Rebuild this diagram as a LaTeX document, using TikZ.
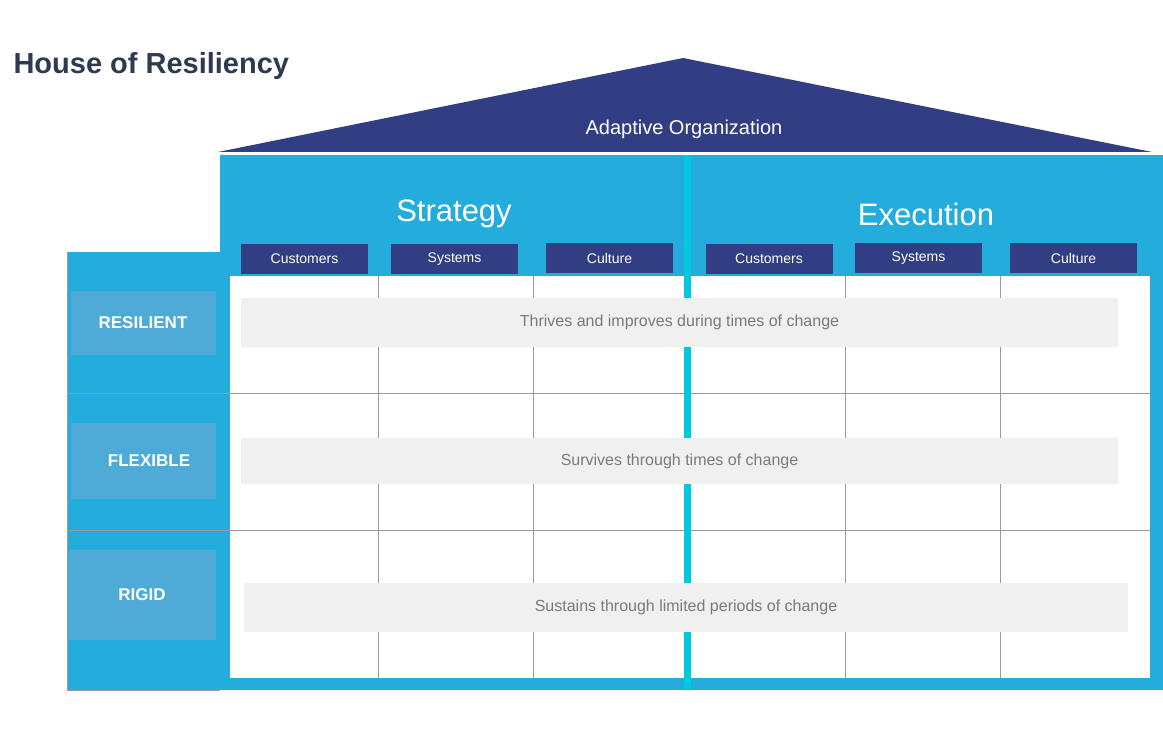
\documentclass[tikz,border=0pt]{standalone}
\usepackage{fontspec}
\setmainfont{Liberation Sans}
\definecolor{navy}{HTML}{323E84}
\definecolor{bodyblue}{HTML}{24ACDC}
\definecolor{lblue}{HTML}{4EAAD6}
\definecolor{cyanl}{HTML}{00C8E0}
\definecolor{titlec}{HTML}{2E3A50}
\definecolor{band}{HTML}{F0F0F0}
\definecolor{bandtxt}{HTML}{7A7A7A}
\definecolor{gridc}{HTML}{9A9A9A}
\begin{document}
\begin{tikzpicture}[x=1pt,y=-1pt,
  hdr/.style={fill=navy,text=white,minimum width=127pt,minimum height=30pt,inner sep=0pt,font=\fontsize{14}{14}\selectfont},
  lvl/.style={fill=lblue,text=white,minimum width=145pt,inner sep=0pt,font=\bfseries\fontsize{17}{17}\selectfont},
  bandn/.style={fill=band,text=bandtxt,inner sep=0pt,font=\fontsize{16}{16}\selectfont},
  big/.style={text=white,font=\fontsize{31}{31}\selectfont}]
\useasboundingbox (0,0) rectangle (1163,735);
\node[anchor=west,text=titlec,font=\bfseries\fontsize{29}{29}\selectfont] (title) at (10,66) {House of Resiliency};
% roof
\fill[navy] (218,152) -- (683,58) -- (1152,152) -- cycle;
\node[text=white,font=\fontsize{20}{20}\selectfont] (roof) at (684,129) {Adaptive Organization};
% body
\fill[bodyblue] (220,155) rectangle (1163,690);
\fill[bodyblue] (67,252) rectangle (220,690);
\draw[gridc] (67,252) -- (67,690) -- (220,690);
\draw[gridc] (67,393) -- (230,393) (67,530) -- (230,530);
% grid
\fill[white] (230,276) rectangle (1150,678);
\draw[gridc] (378,276) -- (378,678) (533,276) -- (533,678)
  (845,276) -- (845,678) (1000,276) -- (1000,678)
  (230,393) -- (1150,393) (230,530) -- (1150,530);
\fill[cyanl] (684,155) rectangle (691,690);
% headings
\node[big] (strat) at (454,214) {Strategy};
\node[big] (exec) at (926,214) {Execution};
\node[hdr] (c1) at (304.5,259) {Customers};
\node[hdr] (s1) at (454.5,259) {Systems};
\node[hdr] (u1) at (609.5,258) {Culture};
\node[hdr] (c2) at (769,259) {Customers};
\node[hdr] (s2) at (918.5,258) {Systems};
\node[hdr] (u2) at (1073.5,258) {Culture};
% levels
\node[lvl,minimum height=64pt] (res) at (143,323) {RESILIENT};
\node[lvl,minimum height=76pt] (flex) at (143,461) {\hspace{12pt}FLEXIBLE};
\node[lvl,minimum height=90pt,minimum width=147pt] (rig) at (142,595) {RIGID};
% bands
\node[bandn,minimum width=877pt,minimum height=49pt] (b1) at (679.5,322.5) {Thrives and improves during times of change};
\node[bandn,minimum width=877pt,minimum height=46pt] (b2) at (679.5,461) {Survives through times of change};
\node[bandn,minimum width=884pt,minimum height=49pt] (b3) at (686,607.5) {Sustains through limited periods of change};
\end{tikzpicture}
\end{document}
